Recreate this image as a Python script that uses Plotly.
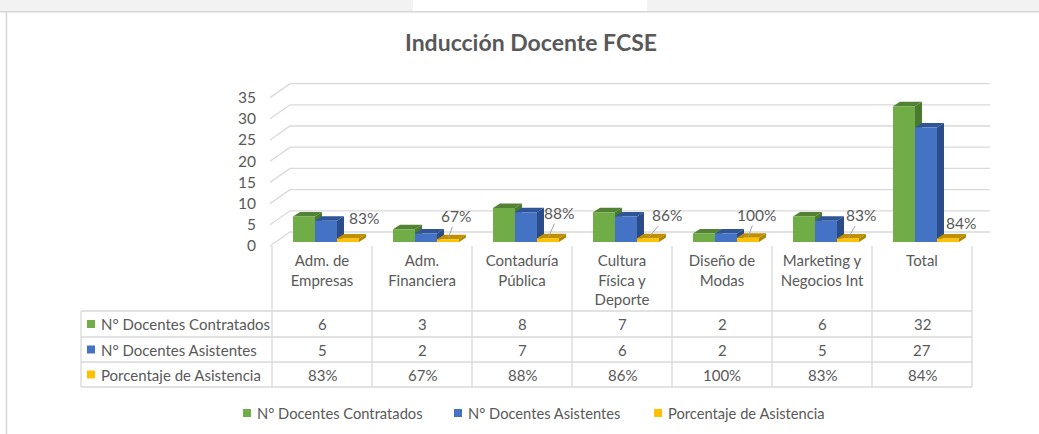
import plotly.graph_objects as go

# ---------------- data ----------------
CATEGORIES = ["Adm. de Empresas", "Adm. Financiera", "Contaduría Pública",
              "Cultura Física y Deporte", "Diseño de Modas",
              "Marketing y Negocios Int", "Total"]
TICK_LABELS = ["Adm. de<br>Empresas", "Adm.<br>Financiera", "Contaduría<br>Pública",
               "Cultura<br>Física y<br>Deporte", "Diseño de<br>Modas",
               "Marketing y<br>Negocios Int", "Total"]
SERIES_NAMES = ["N° Docentes Contratados", "N° Docentes Asistentes",
                "Porcentaje de Asistencia"]
CONTRATADOS = [6, 3, 8, 7, 2, 6, 32]
ASISTENTES = [5, 2, 7, 6, 2, 5, 27]
PORCENTAJE = [83, 67, 88, 86, 100, 83, 84]
Y_TICKS = [0, 5, 10, 15, 20, 25, 30, 35]
TITLE = "Inducción Docente FCSE"

# ---------------- styling / layout ----------------
W, H = 1039, 434
FONT = "Lato"
TXT = "#595959"
GRID = "#d9d9d9"
FRONT = ["#70AD47", "#4472C4", "#FFC000"]
TOP = ["#548235", "#2F5597", "#C09000"]
SIDE = ["#4A7A2E", "#2B4C88", "#B08600"]

X_LEFT_PX, COL_PX = 272, 100
N = len(CATEGORIES)
ZERO_PX, K = 242, 4.24          # pixel of y=0, pixels per unit
Y_RANGE = [-2, 40]
X_DOM = [X_LEFT_PX / W, (X_LEFT_PX + N * COL_PX) / W]
Y_DOM = [1 - (ZERO_PX - Y_RANGE[0] * K) / H, 1 - (ZERO_PX - Y_RANGE[1] * K) / H]

BAR_W = 0.22
BAR_OFF0 = -0.29
DX = 7 / COL_PX          # depth offset (x, data units)
DY = 4.5 / K             # depth offset (y, data units)

# label offsets (px) of percentage labels relative to yellow bar top, and leader flag
LBL_DX = [16, 8, 11, 19, 8, 13, 13]
LBL_DY = [-20, -23, -25, -23, -23, -23, -15]
LBL_LEADER = [False, True, True, True, True, True, False]


def py(px):
    return 1 - px / H


def px_x(px):
    return px / W


idx = list(range(N))
values = [CONTRATADOS, ASISTENTES, [p / 100 for p in PORCENTAJE]]

fig = go.Figure()
for s in range(3):
    fig.add_trace(go.Bar(
        x=idx, y=values[s], name=SERIES_NAMES[s], width=BAR_W,
        offset=BAR_OFF0 + BAR_W * s,
        marker=dict(color=FRONT[s], line=dict(width=0)),
        showlegend=False,
    ))

shapes = []
# top grey strip & frame
shapes.append(dict(type="rect", xref="paper", yref="paper", x0=0, x1=1,
                   y0=py(11), y1=1, fillcolor="#f2f2f2", line=dict(width=0), layer="below"))
shapes.append(dict(type="rect", xref="paper", yref="paper", x0=px_x(413), x1=px_x(647),
                   y0=py(11), y1=1, fillcolor="white", line=dict(width=0), layer="below"))
shapes.append(dict(type="line", xref="paper", yref="paper", x0=0, x1=1,
                   y0=py(11.8), y1=py(11.8), line=dict(color="#d6d6d6", width=1.5)))
shapes.append(dict(type="line", xref="paper", yref="paper", x0=px_x(6.5), x1=px_x(6.5),
                   y0=0, y1=py(12), line=dict(color="#d6d6d6", width=1.5)))

# perspective gridlines
for v in Y_TICKS:
    yf = v - 4 / K
    yb = v + 10 / K
    shapes.append(dict(type="path", xref="paper", yref="y", layer="below",
                       path=f"M {px_x(270)},{yf} L {px_x(290)},{yb} L {px_x(990)},{yb}",
                       line=dict(color=GRID, width=1.3)))

# 3D faces of bars
for i in idx:
    for s in range(3):
        v = values[s][i]
        x0 = i + BAR_OFF0 + BAR_W * s
        x1 = x0 + BAR_W
        shapes.append(dict(type="path", xref="x", yref="y", layer="below",
                           path=f"M {x1},0 L {x1 + DX},{DY} L {x1 + DX},{v + DY} L {x1},{v} Z",
                           fillcolor=SIDE[s], line=dict(width=0)))
        shapes.append(dict(type="path", xref="x", yref="y", layer="below",
                           path=f"M {x0},{v} L {x0 + DX},{v + DY} L {x1 + DX},{v + DY} L {x1},{v} Z",
                           fillcolor=TOP[s], line=dict(width=0)))

# data table
T_TOP, ROWS = 246, [311, 337, 362, 387]
T_LEFT = 81
col_edges = [X_LEFT_PX + COL_PX * c for c in range(N + 1)]
for y in ROWS:
    shapes.append(dict(type="line", xref="paper", yref="paper", x0=px_x(T_LEFT),
                       x1=px_x(col_edges[-1]), y0=py(y), y1=py(y),
                       line=dict(color=GRID, width=1.3)))
shapes.append(dict(type="line", xref="paper", yref="paper", x0=px_x(T_LEFT), x1=px_x(T_LEFT),
                   y0=py(ROWS[0]), y1=py(ROWS[-1]), line=dict(color=GRID, width=1.3)))
for xe in col_edges:
    shapes.append(dict(type="line", xref="paper", yref="paper", x0=px_x(xe), x1=px_x(xe),
                       y0=py(T_TOP), y1=py(ROWS[-1]), line=dict(color=GRID, width=1.3)))

annotations = []
table_rows = [[str(v) for v in CONTRATADOS], [str(v) for v in ASISTENTES],
              [f"{p}%" for p in PORCENTAJE]]
for r in range(3):
    yc = (ROWS[r] + ROWS[r + 1]) / 2
    shapes.append(dict(type="rect", xref="paper", yref="paper", x0=px_x(87), x1=px_x(95),
                       y0=py(yc + 4), y1=py(yc - 4), fillcolor=FRONT[r], line=dict(width=0)))
    annotations.append(dict(xref="paper", yref="paper", x=px_x(99), y=py(yc),
                            xanchor="left", yanchor="middle", showarrow=False,
                            text=SERIES_NAMES[r], font=dict(family=FONT, size=15, color=TXT)))
    for i in idx:
        annotations.append(dict(xref="x", yref="paper", x=i, y=py(yc), showarrow=False,
                                xanchor="center", yanchor="middle", text=table_rows[r][i],
                                font=dict(family=FONT, size=15, color=TXT)))

# percentage data labels
for i in idx:
    tip_x = i + BAR_OFF0 + BAR_W * 2 + BAR_W / 2
    a = dict(xref="x", yref="y", x=tip_x, y=values[2][i], text=f"{PORCENTAJE[i]}%",
             font=dict(family=FONT, size=15.5, color=TXT))
    if LBL_LEADER[i]:
        a.update(showarrow=True, arrowhead=0, arrowwidth=1, arrowcolor="#a6a6a6",
                 ax=LBL_DX[i], ay=LBL_DY[i], standoff=1)
    else:
        a.update(showarrow=False, xshift=LBL_DX[i], yshift=-LBL_DY[i])
    annotations.append(a)

# bottom legend
LEG_SQ = [243, 454, 654]
LEG_Y = 413
for s in range(3):
    shapes.append(dict(type="rect", xref="paper", yref="paper", x0=px_x(LEG_SQ[s]),
                       x1=px_x(LEG_SQ[s] + 8), y0=py(LEG_Y + 4), y1=py(LEG_Y - 4),
                       fillcolor=FRONT[s], line=dict(width=0)))
    annotations.append(dict(xref="paper", yref="paper", x=px_x(LEG_SQ[s] + 12), y=py(LEG_Y),
                            xanchor="left", yanchor="middle", showarrow=False,
                            text=SERIES_NAMES[s], font=dict(family=FONT, size=14.7, color=TXT)))

# title
annotations.append(dict(xref="paper", yref="paper", x=px_x(531), y=py(42), showarrow=False,
                        xanchor="center", yanchor="middle", text=TITLE,
                        font=dict(family=FONT, size=23, color=TXT, weight="bold")))

fig.update_layout(
    width=W, height=H, margin=dict(l=0, r=0, t=0, b=0, autoexpand=False),
    paper_bgcolor="white", plot_bgcolor="rgba(0,0,0,0)",
    barmode="overlay", showlegend=False,
    shapes=shapes, annotations=annotations,
    font=dict(family=FONT, color=TXT),
    xaxis=dict(domain=X_DOM, range=[-0.5, N - 0.5], tickmode="array", tickvals=idx,
               ticktext=TICK_LABELS, showgrid=False, zeroline=False, showline=False,
               automargin=False,
               ticks="", tickfont=dict(family=FONT, size=15, color=TXT)),
    yaxis=dict(domain=Y_DOM, range=Y_RANGE, tickmode="array", tickvals=Y_TICKS,
               showgrid=False, zeroline=False, showline=False, ticks="",
               automargin=False,
               ticklabelstandoff=15, ticklabelshift=4,
               tickfont=dict(family=FONT, size=15.5, color=TXT)),
)

fig.write_html(
    "out.html", config={"displayModeBar": False},
    post_script=("document.documentElement.style.margin='0';"
                 "document.body.style.margin='0';"
                 "var gd=document.getElementById('{plot_id}');"
                 "gd.style.position='fixed';gd.style.top='0px';gd.style.left='0px';"
                 "window.scrollTo(0,0);"),
)
